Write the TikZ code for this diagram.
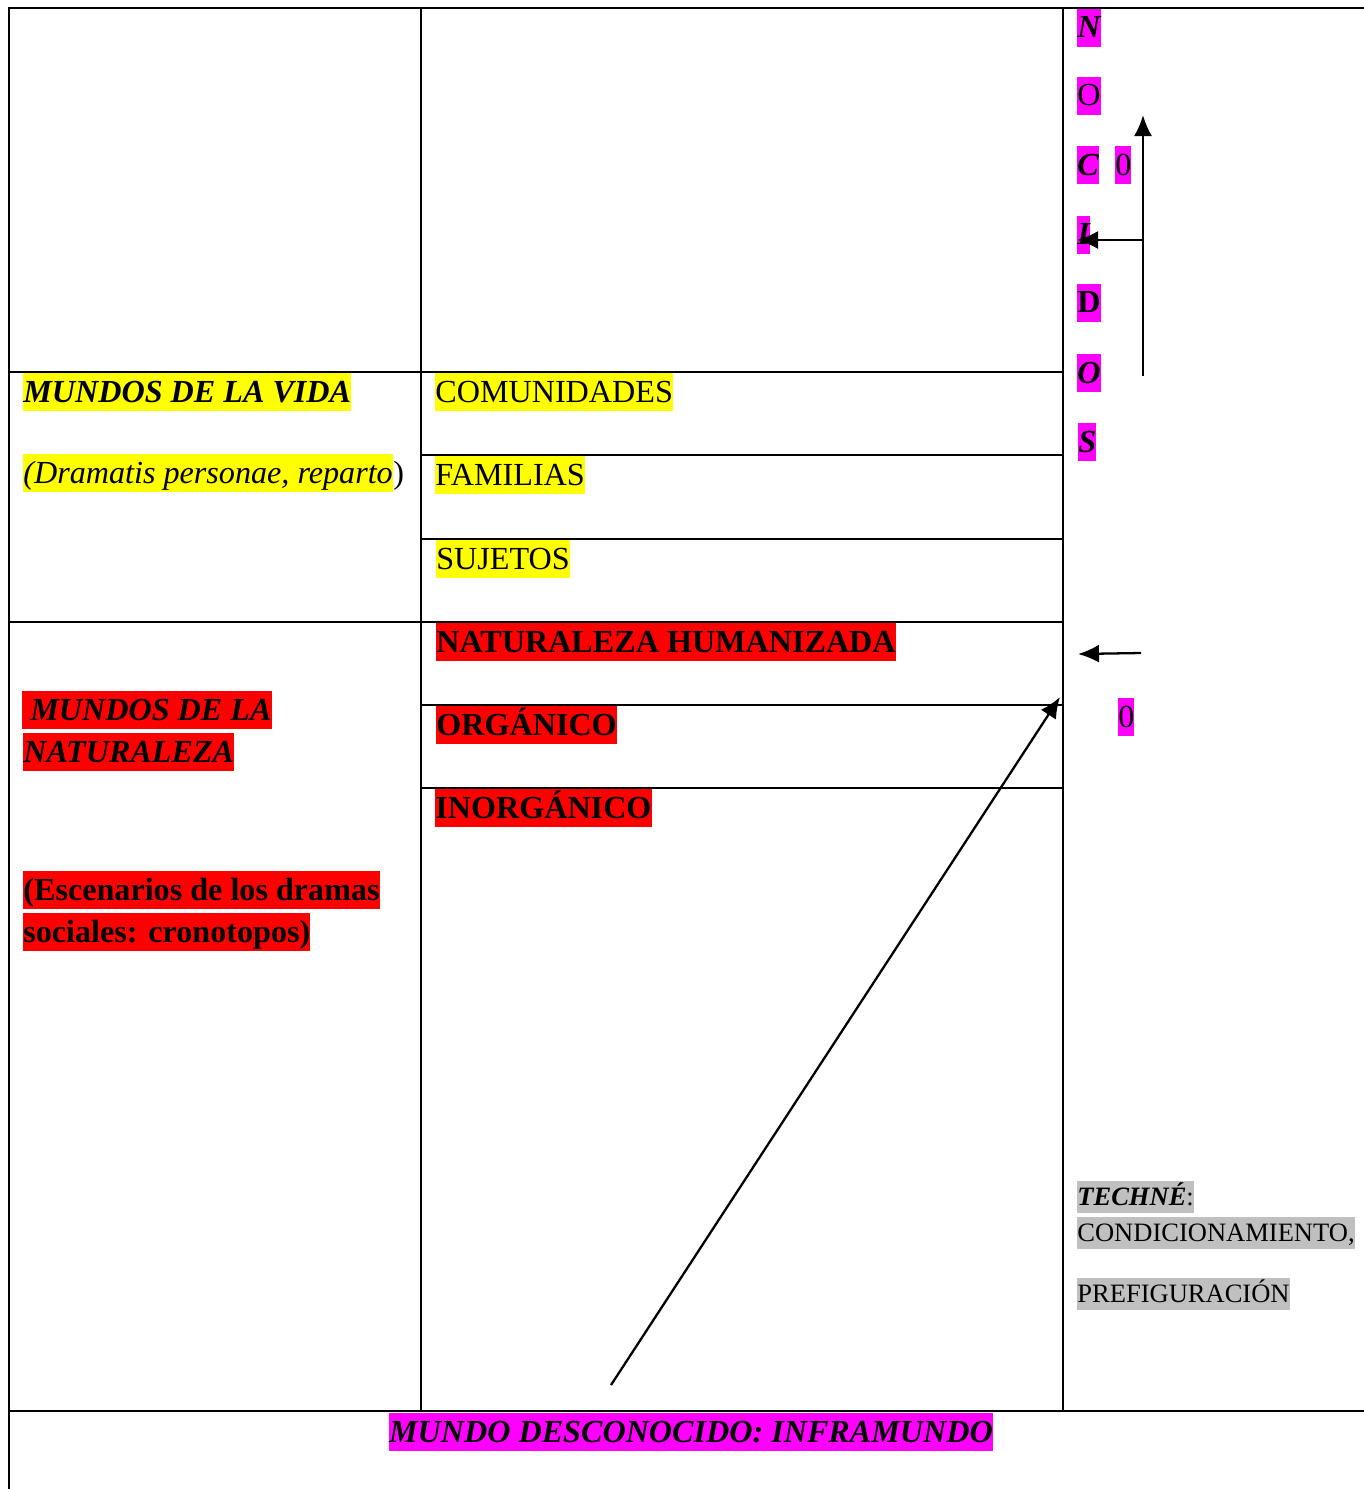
\documentclass[tikz,border=0pt]{standalone}
\usepackage{fontspec}
\setmainfont{Liberation Serif}
\usetikzlibrary{arrows.meta}
\definecolor{amarillo}{RGB}{255,255,0}
\definecolor{rojo}{RGB}{255,0,0}
\definecolor{magenta}{RGB}{255,0,255}
\definecolor{gris}{RGB}{192,192,192}
\newcommand{\letragrande}{\fontsize{18.3}{21}\selectfont}

\begin{document}
\begin{tikzpicture}[x=0.02cm,y=-0.02cm,
    tabla/.style={line width=1.3pt},
    hl/.style={inner sep=0pt,anchor=north west,font=\letragrande,text height=16.3pt,text depth=5pt},
    vida/.style={hl,fill=amarillo},
    natur/.style={hl,fill=rojo,font=\letragrande\bfseries},
    letra/.style={hl,fill=magenta},
    techne/.style={hl,fill=gris,font=\fontsize{15.1}{18}\selectfont,text height=13.8pt,text depth=4.2pt},
    flecha/.style={line width=1.3pt,-{Latex[length=4.2mm,width=3.6mm]}}]
    \useasboundingbox (0,0) rectangle (1364,1489);

    % tabla
    \draw [tabla] (8,8) -- (1364,8);
    \draw [tabla] (9,8) -- (9,1489);
    \draw [tabla] (421,8) -- (421,1411);
    \draw [tabla] (1063,8) -- (1063,1411);
    \draw [tabla] (8,1411) -- (1364,1411);
    \draw [tabla] (8,372) -- (1063,372);
    \draw [tabla] (8,622) -- (1063,622);
    \foreach \y in {455,539,705,788}
      \draw [tabla] (421,\y) -- (1063,\y);

    % primera columna
    \node [vida,font=\letragrande\bfseries\itshape] (vidaT) at (23,373) {MUNDOS DE LA VIDA};
    \node [vida,font=\letragrande\itshape] (reparto) at (23,454) {(Dramatis personae, reparto};
    \node [inner sep=0pt,anchor=base west,font=\letragrande] (cierre) at (reparto.base east) {)};
    \node [natur,font=\letragrande\bfseries\itshape] (naturA) at (22,691) {\ MUNDOS DE LA};
    \node [natur,font=\letragrande\bfseries\itshape] (naturB) at (23,733) {NATURALEZA};
    \node [natur] (escenA) at (23,871) {(Escenarios de los dramas};
    \node [natur] (escenB) at (23,913) {sociales: cronotopos)};

    % segunda columna
    \node [vida] (comunidades) at (435,373) {COMUNIDADES};
    \node [vida] (familias) at (435,456) {FAMILIAS};
    \node [vida] (sujetos) at (436,540) {SUJETOS};
    \node [natur] (humanizada) at (436,623) {NATURALEZA HUMANIZADA};
    \node [natur] (organico) at (436,706) {ORGÁNICO};
    \node [natur] (inorganico) at (435,789) {INORGÁNICO};

    % tercera columna
    \node [letra,font=\letragrande\bfseries\itshape] (lN) at (1077,9) {N};
    \node [letra] (lO) at (1077,77) {O};
    \node [letra,font=\letragrande\bfseries\itshape] (lC) at (1077,146) {C};
    \node [letra] (cero) at (1115,146) {0};
    \node [letra,font=\letragrande\bfseries\itshape] (lI) at (1077,216) {I};
    \node [letra,font=\letragrande\bfseries] (lD) at (1077,284) {D};
    \node [letra,font=\letragrande\bfseries\itshape] (lO2) at (1077,354) {O};
    \node [letra,font=\letragrande\bfseries\itshape] (lS) at (1078,423) {S};
    \node [letra] (cero2) at (1118,698) {0};

    \node [techne] (techne) at (1077,1181) {{\bfseries\itshape TECHNÉ}:};
    \node [techne] (condic) at (1077,1217) {CONDICIONAMIENTO,};
    \node [techne] (prefig) at (1077,1278) {PREFIGURACIÓN};

    % mundo desconocido
    \node [letra,anchor=north,font=\letragrande\bfseries\itshape] (infra) at (691,1413) {MUNDO DESCONOCIDO: INFRAMUNDO};

    % flechas
    \coordinate (pie) at (1143,376);
    \coordinate (cima) at (1143,115);
    \coordinate (rama) at (1143,240);
    \coordinate (colaH) at (1141,653);
    \coordinate (puntaH) at (1078,654);
    \coordinate (base) at (611,1385);
    \coordinate (esquina) at (1060,697);
    \draw [flecha] (pie) -- (cima);
    \draw [flecha] (rama) -- (lI.west |- rama);
    \draw [flecha] (colaH) -- (puntaH);
    \draw [flecha] (base) -- (esquina);
\end{tikzpicture}
\end{document}
